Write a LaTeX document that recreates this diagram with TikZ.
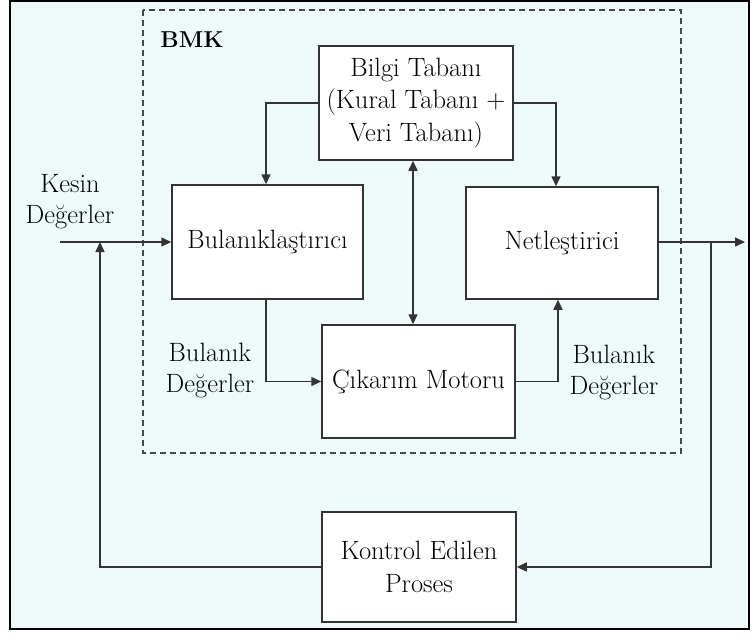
\documentclass[tikz,border=0pt]{standalone}
\usetikzlibrary{arrows.meta}
\definecolor{bg}{HTML}{EEF9FA}
\definecolor{ln}{HTML}{333333}
\begin{document}
\begin{tikzpicture}[x=1pt,y=-1pt,
  box/.style={draw=ln, line width=1.5pt, fill=white, inner sep=0pt, align=center, font=\fontsize{26.5}{32.5}\selectfont},
  lbl/.style={align=center, inner sep=0pt, font=\fontsize{26.5}{31}\selectfont},
  conn/.style={draw=ln, line width=1.5pt, -{Triangle[length=10pt,width=9pt]}},
  conn2/.style={draw=ln, line width=1.5pt, {Triangle[length=10pt,width=9pt]}-{Triangle[length=10pt,width=9pt]}}]
\useasboundingbox (0,0) rectangle (752,641);
\fill[white] (0,0) rectangle (752,641);
\fill[bg] (10,1) rectangle (749,629);
\draw[line width=2.5pt] (10,1) rectangle (749,629);
\draw[draw=ln!90, line width=1.5pt, dash pattern=on 6pt off 4pt] (143,10) rectangle (681,453);
\node[lbl, font=\fontsize{23}{26}\selectfont\bfseries] (bmk) at (192,40) {BMK};
\node[box, minimum width=194pt, minimum height=114pt] (bilgi) at (416,103) {Bilgi Tabanı\\(Kural Tabanı +\\Veri Tabanı)};
\node[box, minimum width=191pt, minimum height=114pt] (bul) at (267.5,242) {Bulanıklaştırıcı};
\node[box, minimum width=192pt, minimum height=112pt] (net) at (562,243) {Netleştirici};
\node[box, minimum width=193pt, minimum height=113pt] (cik) at (418.5,381.5) {Çıkarım Motoru};
\node[box, minimum width=194pt, minimum height=110pt] (kon) at (419,567) {Kontrol Edilen\\Proses};
\node[lbl] (kesin) at (70,202) {Kesin\\Değerler};
\node[lbl] (bd1) at (210,370) {Bulanık\\Değerler};
\node[lbl] (bd2) at (614,372) {Bulanık\\Değerler};
\coordinate (in) at (60,242);
\coordinate (out) at (745,242);
\coordinate (br) at (711,242);
\coordinate (fb) at (100,242);
\draw[conn] (bilgi.west) -| ([xshift=-1.5pt]bul.north);
\draw[conn] (bilgi.east) -| ([xshift=-6pt]net.north);
\draw[conn2] ([xshift=-3pt]bilgi.south) -- ([xshift=-3pt]bilgi.south |- cik.north);
\draw[conn] ([xshift=-1.5pt]bul.south) |- (cik.west);
\draw[conn] (cik.east) -| ([xshift=-4pt]net.south);
\draw[conn] (net.east |- out) -- (out);
\draw[conn] (br) |- (kon.east);
\draw[conn] (kon.west) -| (fb);
\draw[conn] (in) -- (bul.west);
\end{tikzpicture}
\end{document}
